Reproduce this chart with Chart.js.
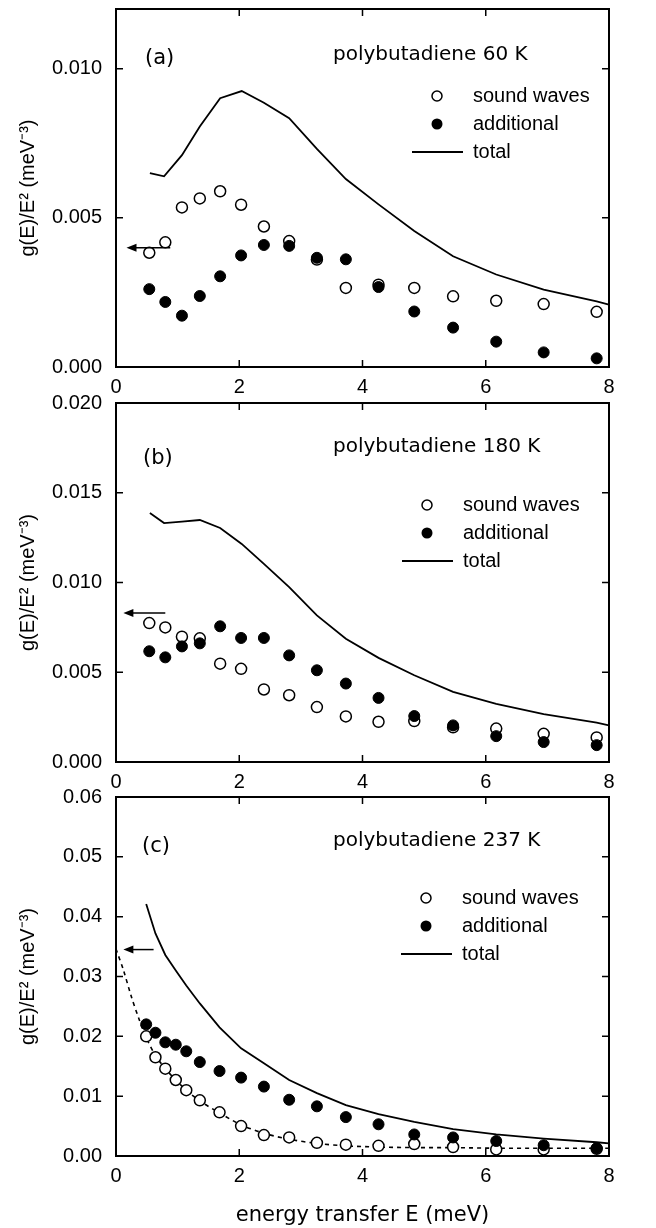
<!DOCTYPE html>
<html>
<head>
<meta charset="utf-8">
<script src="https://cdn.jsdelivr.net/npm/chart.js@4.4.1/dist/chart.umd.min.js"></script>
<style>
  body { margin: 0; background: #fff; }
  #wrap { position: relative; width: 656px; height: 1228px; overflow: hidden; }
  canvas { position: absolute; left: 0; }
</style>
</head>
<body>
<div id="wrap">
  <canvas id="panelA" width="656" height="420" style="top:0px;z-index:3"></canvas>
  <canvas id="panelB" width="656" height="420" style="top:390px;z-index:2"></canvas>
  <canvas id="panelC" width="656" height="444" style="top:784px;z-index:1"></canvas>
</div>
<script>
// ---- data ----
const energy = [0.54, 0.80, 1.07, 1.36, 1.69, 2.03, 2.40, 2.81, 3.26, 3.73, 4.26, 4.84, 5.47, 6.17, 6.94, 7.80];
const energyTotal = [0.55, 0.78, 1.07, 1.36, 1.69, 2.04, 2.40, 2.81, 3.26, 3.73, 4.26, 4.84, 5.47, 6.17, 6.94, 7.80, 8.00];

// (a) 60 K
const soundA = [0.00383, 0.00418, 0.00535, 0.00565, 0.00589, 0.00544, 0.00471, 0.00422, 0.00360, 0.00265, 0.00276, 0.00265, 0.00237, 0.00222, 0.00211, 0.00185];
const addA   = [0.00261, 0.00218, 0.00172, 0.00238, 0.00304, 0.00374, 0.00409, 0.00406, 0.00366, 0.00361, 0.00268, 0.00186, 0.00132, 0.00085, 0.00049, 0.00029];
const totalA = [0.00650, 0.00639, 0.00710, 0.00806, 0.00901, 0.00925, 0.00886, 0.00834, 0.00731, 0.00630, 0.00545, 0.00456, 0.00371, 0.00310, 0.00259, 0.00220, 0.00209];

// (b) 180 K
const soundB = [0.00774, 0.00750, 0.00698, 0.00689, 0.00548, 0.00519, 0.00404, 0.00372, 0.00306, 0.00254, 0.00224, 0.00228, 0.00193, 0.00186, 0.00157, 0.00137];
const addB   = [0.00617, 0.00583, 0.00644, 0.00661, 0.00756, 0.00691, 0.00691, 0.00594, 0.00511, 0.00437, 0.00357, 0.00256, 0.00204, 0.00144, 0.00111, 0.00094];
const totalB = [0.01387, 0.01331, 0.01339, 0.01348, 0.01304, 0.01215, 0.01104, 0.00974, 0.00817, 0.00687, 0.00580, 0.00483, 0.00391, 0.00324, 0.00267, 0.00219, 0.00204];

// (c) 237 K
const energyC = [0.49, 0.64, 0.80, 0.97, 1.14, 1.36, 1.68, 2.03, 2.40, 2.81, 3.26, 3.73, 4.26, 4.84, 5.47, 6.17, 6.94, 7.80];
const soundC  = [0.0200, 0.0165, 0.0146, 0.0127, 0.0110, 0.0093, 0.0073, 0.0050, 0.0035, 0.0031, 0.0022, 0.0019, 0.0017, 0.0020, 0.0015, 0.0011, 0.0011, 0.0012];
const addC    = [0.0220, 0.0206, 0.0190, 0.0186, 0.0175, 0.0157, 0.0142, 0.0131, 0.0116, 0.0094, 0.0083, 0.0065, 0.0053, 0.0036, 0.0031, 0.0025, 0.0018, 0.0013];
const energyTotalC = [0.49, 0.64, 0.80, 0.97, 1.14, 1.36, 1.68, 2.03, 2.40, 2.81, 3.26, 3.73, 4.26, 4.84, 5.47, 6.17, 6.94, 7.80, 8.00];
const totalC  = [0.0421, 0.0372, 0.0336, 0.0310, 0.0285, 0.0255, 0.0215, 0.0180, 0.0155, 0.0127, 0.0105, 0.0085, 0.0070, 0.0057, 0.0045, 0.0036, 0.0029, 0.0023, 0.0021];
const energyFitC = [0, 0.12, 0.25, 0.38, 0.49, 0.64, 0.80, 0.97, 1.14, 1.36, 1.68, 2.03, 2.40, 2.81, 3.26, 3.73, 4.26, 4.84, 5.47, 6.17, 6.94, 8.00];
const fitC = [0.0346, 0.0311, 0.0266, 0.0227, 0.0198, 0.0168, 0.0146, 0.0127, 0.0110, 0.0092, 0.0072, 0.0052, 0.0038, 0.0028, 0.0021, 0.0017, 0.0015, 0.0014, 0.0014, 0.0013, 0.0013, 0.0013];

// arrows (value level, E start, E tip)
const arrowA = [0.0040, 0.88, 0.17];
const arrowB = [0.0083, 0.80, 0.12];
const arrowC = [0.0345, 0.61, 0.12];

const xTicks = [0, 2, 4, 6, 8];
const yTitle = 'g(E)/E² (meV⁻³)';
const legendLabels = ['sound waves', 'additional', 'total'];

Chart.defaults.font.family = '"Liberation Sans", Arial, sans-serif';
Chart.defaults.font.size = 20;
Chart.defaults.color = '#000';

const pts = (xs, ys) => xs.map((e, i) => ({ x: e, y: ys[i] }));

// frame, inward ticks, arrow, labels and legend
const decor = {
  id: 'decor',
  beforeDatasetsDraw(chart) {
    const { ctx, chartArea: a, scales: { x, y } } = chart;
    ctx.save();
    ctx.strokeStyle = '#000';
    ctx.lineWidth = 2;
    ctx.strokeRect(a.left, a.top, a.right - a.left, a.bottom - a.top);
    ctx.lineWidth = 1.5;
    ctx.beginPath();
    x.ticks.forEach(t => {
      const px = x.getPixelForValue(t.value);
      if (px < a.left + 2 || px > a.right - 2) return;
      ctx.moveTo(px, a.top); ctx.lineTo(px, a.top + 7);
      ctx.moveTo(px, a.bottom); ctx.lineTo(px, a.bottom - 7);
    });
    y.ticks.forEach(t => {
      const py = y.getPixelForValue(t.value);
      if (py < a.top + 2 || py > a.bottom - 2) return;
      ctx.moveTo(a.left, py); ctx.lineTo(a.left + 7, py);
      ctx.moveTo(a.right, py); ctx.lineTo(a.right - 7, py);
    });
    ctx.stroke();
    ctx.restore();
  },
  afterDatasetsDraw(chart, args, o) {
    const { ctx, chartArea: a, scales: { x, y } } = chart;
    ctx.save();
    ctx.strokeStyle = '#000';
    ctx.fillStyle = '#000';

    // arrow
    const ay = y.getPixelForValue(o.arrow[0]);
    const x1 = x.getPixelForValue(o.arrow[1]);
    const x0 = x.getPixelForValue(o.arrow[2]);
    ctx.lineWidth = 1.5;
    ctx.beginPath();
    ctx.moveTo(x1, ay); ctx.lineTo(x0 + 6, ay);
    ctx.stroke();
    ctx.beginPath();
    ctx.moveTo(x0, ay); ctx.lineTo(x0 + 10, ay - 4); ctx.lineTo(x0 + 10, ay + 4);
    ctx.closePath();
    ctx.fill();

    // panel tag and title
    ctx.textBaseline = 'middle';
    ctx.textAlign = 'left';
    ctx.font = '21px "DejaVu Sans"';
    ctx.fillText(o.tag, a.left + o.tagAt[0], a.top + o.tagAt[1]);
    ctx.font = '20px "DejaVu Sans"';
    ctx.fillText(o.title, a.left + 217, a.top + o.titleY);

    // legend
    const L = o.legend;
    ctx.font = '20px "Liberation Sans", Arial';
    const rows = [L.y, L.y + 28, L.y + 56].map(v => a.top + v);
    const mx = a.left + L.x;
    ctx.lineWidth = 1.5;
    ctx.beginPath();
    ctx.arc(mx, rows[0], 5, 0, Math.PI * 2);
    ctx.fillStyle = '#fff'; ctx.fill();
    ctx.stroke();
    ctx.fillStyle = '#000';
    ctx.beginPath();
    ctx.arc(mx, rows[1], 5.5, 0, Math.PI * 2);
    ctx.fill();
    ctx.lineWidth = 1.8;
    ctx.beginPath();
    ctx.moveTo(mx - 25, rows[2]); ctx.lineTo(mx + 26, rows[2]);
    ctx.stroke();
    legendLabels.forEach((t, i) => ctx.fillText(t, mx + 36, rows[i]));
    ctx.restore();
  }
};

function makePanel(id, cfg) {
  const datasets = [
    { data: pts(cfg.eAdd, cfg.add), pointRadius: 5.5, pointBackgroundColor: '#000', pointBorderColor: '#000', pointBorderWidth: 1 },
    { data: pts(cfg.eSound, cfg.sound), pointRadius: 5.5, pointBackgroundColor: '#fff', pointBorderColor: '#000', pointBorderWidth: 1.5 },
    { data: pts(cfg.eTotal, cfg.total), showLine: true, pointRadius: 0, borderColor: '#000', borderWidth: 1.8, tension: 0 }
  ];
  if (cfg.fit) {
    datasets.push({ data: pts(cfg.eFit, cfg.fit), showLine: true, pointRadius: 0, borderColor: '#000', borderWidth: 1.6, borderDash: [4, 4], tension: 0.3 });
  }
  return new Chart(document.getElementById(id), {
    type: 'scatter',
    data: { datasets },
    plugins: [decor],
    options: {
      responsive: false,
      animation: false,
      layout: { padding: { left: 0, right: 47, top: cfg.padTop, bottom: cfg.padBottom } },
      plugins: {
        legend: { display: false },
        tooltip: { enabled: false },
        decor: cfg.decor
      },
      scales: {
        x: {
          type: 'linear', min: 0, max: 8,
          afterBuildTicks: s => { s.ticks = xTicks.map(v => ({ value: v })); },
          ticks: { padding: 8, maxRotation: 0, callback: v => String(v) },
          grid: { display: false, drawTicks: false },
          border: { display: false },
          title: cfg.xTitle
            ? { display: true, text: 'energy transfer E (meV)', font: { family: '"DejaVu Sans"', size: 21 }, padding: { top: 0, bottom: 0 } }
            : { display: false },
          afterFit: s => { s.height = cfg.xHeight; s.paddingLeft = 0; s.paddingRight = 0; }
        },
        y: {
          min: 0, max: cfg.yMax,
          ticks: { stepSize: cfg.yStep, includeBounds: false, padding: 14, callback: v => v.toFixed(cfg.digits) },
          grid: { display: false, drawTicks: false },
          border: { display: false },
          title: { display: true, text: yTitle, padding: { top: 16, bottom: 0 } },
          afterFit: s => { s.width = 116; s.paddingTop = 0; s.paddingBottom = 0; }
        }
      }
    }
  });
}

makePanel('panelA', {
  eAdd: energy, add: addA, eSound: energy, sound: soundA, eTotal: energyTotal, total: totalA,
  yMax: 0.012, yStep: 0.005, digits: 3, padTop: 9, padBottom: 25, xHeight: 28,
  decor: { arrow: arrowA, tag: '(a)', tagAt: [29, 50], title: 'polybutadiene 60 K', titleY: 46, legend: { x: 321, y: 87 } }
});
makePanel('panelB', {
  eAdd: energy, add: addB, eSound: energy, sound: soundB, eTotal: energyTotal, total: totalB,
  yMax: 0.020, yStep: 0.005, digits: 3, padTop: 13, padBottom: 20, xHeight: 28,
  decor: { arrow: arrowB, tag: '(b)', tagAt: [27, 56], title: 'polybutadiene 180 K', titleY: 44, legend: { x: 311, y: 102 } }
});
makePanel('panelC', {
  eAdd: energyC, add: addC, eSound: energyC, sound: soundC, eTotal: energyTotalC, total: totalC,
  eFit: energyFitC, fit: fitC, xTitle: true,
  yMax: 0.06, yStep: 0.01, digits: 2, padTop: 13, padBottom: 0, xHeight: 72,
  decor: { arrow: arrowC, tag: '(c)', tagAt: [26, 50], title: 'polybutadiene 237 K', titleY: 44, legend: { x: 310, y: 101 } }
});
</script>
</body>
</html>
